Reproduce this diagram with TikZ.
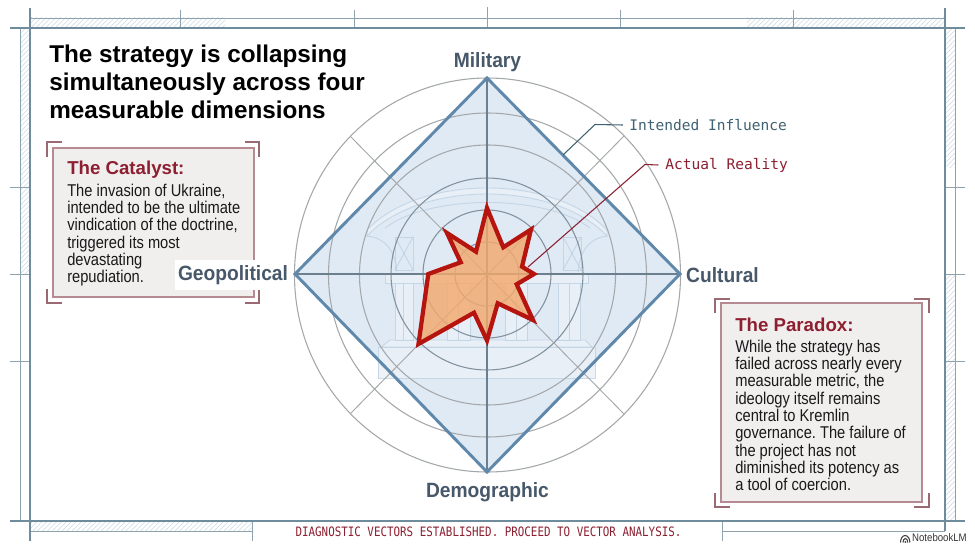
\documentclass[tikz,border=0pt]{standalone}
\usepackage{fontspec}
\setmainfont{Liberation Sans}
\newfontfamily\bodyfont[FakeStretch=0.86]{Liberation Sans}
\newfontfamily\axisfont[FakeStretch=0.93]{Liberation Sans}
\newfontfamily\logofont[FakeStretch=0.88]{Liberation Sans}
\newfontfamily\monofont{DejaVu Sans Mono}
\newfontfamily\footfont[FakeStretch=0.84]{DejaVu Sans Mono}
\usetikzlibrary{patterns.meta}
\frenchspacing
\definecolor{framecol}{HTML}{6F8C9C}
\definecolor{thincol}{HTML}{8FA3AE}
\definecolor{hatchcol}{HTML}{CBDAE4}
\definecolor{ringcol}{HTML}{A4A8AA}
\definecolor{axiscol}{HTML}{6C7F8E}
\definecolor{intendcol}{HTML}{5F88AB}
\definecolor{intendfill}{HTML}{E0EAF5}
\definecolor{templecol}{HTML}{BDD1E3}
\definecolor{actualcol}{HTML}{B5140F}
\definecolor{actualfill}{HTML}{F3A96E}
\definecolor{slatecol}{HTML}{47586A}
\definecolor{leadcol}{HTML}{3F6272}
\definecolor{wine}{HTML}{8C1F30}
\definecolor{boxfill}{HTML}{F1EEEE}
\definecolor{boxline}{HTML}{B58A90}
\definecolor{brackcol}{HTML}{9A6A72}
\tikzset{
  mainline/.style={draw=framecol, line width=1pt},
  thinline/.style={draw=thincol, line width=.7pt},
  hatchstrip/.style={pattern={Lines[angle=45,distance=2.6pt,line width=.4pt]}, pattern color=hatchcol},
  ring/.style={draw=ringcol, line width=.8pt},
  spoke/.style={draw=ringcol, line width=.7pt},
  axis/.style={draw=axiscol, line width=.8pt},
  templeline/.style={draw=templecol, line width=.7pt},
  templefill/.style={fill=templecol!30, draw=templecol, line width=.7pt},
  axislabel/.style={font=\axisfont\fontsize{15.5}{17}\selectfont\bfseries, text=slatecol, inner sep=0pt},
  legendlabel/.style={font=\monofont\fontsize{10.9}{13}\selectfont, anchor=west, inner sep=0pt},
  notebox/.style={fill=boxfill, draw=boxline, line width=1pt},
  bracket/.style={draw=brackcol, line width=1pt},
  noteskip/.style={font=\bodyfont\fontsize{12.8}{13}\selectfont, anchor=north west, align=left, inner sep=0pt, text=black!90},
  notehead/.style={font=\fontsize{14}{16}\selectfont\bfseries, anchor=west, inner sep=0pt, text=wine},
}
\begin{document}
\begin{tikzpicture}[x=0.75pt, y=-0.75pt]
  \useasboundingbox (0,0) rectangle (975,549);
  \fill[white] (0,0) rectangle (975,549);
  % hatched strips
  \fill[hatchstrip] (30,18) rectangle (225,28);
  \fill[hatchstrip] (747,18) rectangle (945,28);
  \fill[hatchstrip] (20,28) rectangle (30,274);
  \fill[hatchstrip] (945,28) rectangle (955,168);
  \fill[hatchstrip] (945,274) rectangle (955,521);
  \fill[hatchstrip] (30,521) rectangle (252,531);
  % outer construction lines
  \draw[thinline] (30,18) -- (945,18);
  \draw[thinline] (20,28) -- (20,521);
  \draw[thinline] (955,28) -- (955,521);
  \draw[thinline] (30,531) -- (252,531);
  \draw[thinline] (722,531) -- (945,531);
  % ticks
  \draw[thinline] (180,10) -- (180,28);
  \draw[thinline] (354,10) -- (354,28);
  \draw[thinline] (487,7) -- (487,28);
  \draw[thinline] (620,10) -- (620,28);
  \draw[thinline] (793,10) -- (793,28);
  \draw[thinline] (10,187) -- (30,187);
  \draw[thinline] (10,274) -- (30,274);
  \draw[thinline] (10,361) -- (30,361);
  \draw[thinline] (945,187) -- (965,187);
  \draw[thinline] (945,274) -- (965,274);
  \draw[thinline] (945,361) -- (965,361);
  \draw[thinline] (252,521) -- (252,541);
  \draw[thinline] (722,521) -- (722,541);
  % main frame
  \draw[mainline] (10,28) -- (965,28);
  \draw[mainline] (10,521) -- (965,521);
  \draw[mainline] (30,8) -- (30,541);
  \draw[mainline] (945,8) -- (945,531);
  %
  % intended influence
  \fill[intendfill] (487,78) -- (680,274) -- (487,472) -- (295,274) -- cycle;
  %
  % faint temple
  \begin{scope}[opacity=.8]
    \draw[templefill] (378,347) rectangle (595,378);
    \draw[templefill] (381,347) -- (390,340) -- (585,340) -- (592,347) -- cycle;
    \draw[templefill] (367,230) .. controls (420,174) and (554,174) .. (607,230)
      -- (607,236) .. controls (554,180) and (420,180) .. (367,236) -- cycle;
    \draw[templeline] (385,228) .. controls (430,194) and (545,194) .. (590,228);
    \draw[templeline] (367,236) .. controls (385,238) and (395,250) .. (397,272);
    \draw[templeline] (607,236) .. controls (590,238) and (580,250) .. (578,272);
    \draw[templeline] (395,237) rectangle (413,270);
    \draw[templeline] (395,237) -- (413,270);
    \draw[templeline] (395,270) -- (413,237);
    \draw[templeline] (563,237) rectangle (581,270);
    \draw[templeline] (563,237) -- (581,270);
    \draw[templeline] (563,270) -- (581,237);
    \draw[templefill] (385,274) rectangle (588,283);
    \draw[templefill] (395,283) rectangle (413,340);
    \draw[templefill] (447,283) rectangle (470,340);
    \draw[templefill] (505,283) rectangle (527,340);
    \draw[templefill] (558,283) rectangle (580,340);
    \draw[templeline] (403,283) -- (403,340);
    \draw[templeline] (458,283) -- (458,340);
    \draw[templeline] (516,283) -- (516,340);
    \draw[templeline] (569,283) -- (569,340);
  \end{scope}
  %
  % rings
  \draw[ring] (487.5,275) circle[x radius=193, y radius=197];
  \draw[ring] (487.5,275) circle[x radius=159, y radius=162];
  \draw[ring] (487.5,275) circle[x radius=128, y radius=130];
  \draw[ring, draw=axiscol!85] (487,274) circle[x radius=96, y radius=96];
  \draw[ring, draw=axiscol!85] (487,274) circle[x radius=64, y radius=64];
  \draw[ring, draw=axiscol!85] (487,274) circle[x radius=32, y radius=32];
  %
  % spokes
  \draw[spoke] (350,136) -- (624,414);
  \draw[spoke] (350,414) -- (624,136);
  \draw[axis] (487,78) -- (487,472);
  \draw[axis] (295,274) -- (680,274);
  %
  \draw[draw=intendcol, line width=2.2pt, line join=miter] (487,78) -- (680,274) -- (487,472) -- (295,274) -- cycle;
  %
  % actual reality
  \draw[draw=actualcol, line width=3.2pt, fill=actualfill, fill opacity=.82, line join=miter, miter limit=6]
    (487,208) -- (503.3,247.3) -- (531,229.5) -- (522,266.7) -- (534,274) -- (516.7,284.3)
    -- (533,320) -- (497.7,303.3) -- (487,340.5) -- (474,312.7) -- (418.5,344)
    -- (428.3,274) -- (460.7,262.3) -- (447,233) -- (476,251.7) -- cycle;
  %
  % axis labels
  \node[axislabel] (military) at (487.5,62) {Military};
  \node[axislabel] (demographic) at (487.5,492) {Demographic};
  \node[axislabel] (cultural) at (722.5,275) {Cultural};
  %
  % legend
  \node[legendlabel, text=leadcol] (intended) at (629,125) {Intended Influence};
  \node[legendlabel, text=wine] (actual) at (665,165) {Actual Reality};
  \coordinate (intendedend) at (563,155);
  \coordinate (actualend) at (528,267);
  \coordinate (intendedbend) at (595,124.5);
  \coordinate (actualbend) at (645,164.5);
  \draw[draw=leadcol, line width=.8pt] (intendedend) -- (intendedbend) -- ([xshift=-4.5pt]intended.west);
  \draw[draw=wine, line width=.8pt] (actualend) -- (actualbend) -- ([xshift=-5pt]actual.west);
  %
  % title
  \node[font=\fontsize{18.2}{21}\selectfont\bfseries, anchor=north west, align=left, inner sep=0pt] (title) at (49,45)
    {The strategy is collapsing\\simultaneously across four\\measurable dimensions};
  %
  % catalyst note
  \draw[notebox] (53,148) rectangle (254,297);
  \draw[bracket] (47,157) -- (47,142) -- (62,142);
  \draw[bracket] (245,142) -- (259,142) -- (259,157);
  \draw[bracket] (47,289) -- (47,303) -- (62,303);
  \draw[bracket] (245,303) -- (259,303) -- (259,289);
  \node[notehead] (catalyst) at (67,170) {The Catalyst:};
  \node[noteskip] (catalysttext) at (67,183.5) {The invasion of Ukraine,\\intended to be the ultimate\\vindication of the doctrine,\\triggered its most\\devastating\\repudiation.};
  \node[axislabel, fill=white, inner xsep=2pt, inner ysep=4pt] (geopolitical) at (233,275) {Geopolitical};
  %
  % paradox note
  \draw[notebox] (721,303) rectangle (922,502);
  \draw[bracket] (715,313) -- (715,299) -- (730,299);
  \draw[bracket] (914,299) -- (929,299) -- (929,313);
  \draw[bracket] (715,493) -- (715,507) -- (730,507);
  \draw[bracket] (914,507) -- (929,507) -- (929,493);
  \node[notehead] (paradox) at (735,325) {The Paradox:};
  \node[noteskip] (paradoxtext) at (735,339.5) {While the strategy has\\failed across nearly every\\measurable metric, the\\ideology itself remains\\central to Kremlin\\governance. The failure of\\the project has not\\diminished its potency as\\a tool of coercion.};
  %
  % footer
  \node[font=\footfont\fontsize{9.7}{11}\selectfont, text=wine, inner sep=0pt] (footer) at (488.5,531.5) {DIAGNOSTIC VECTORS ESTABLISHED. PROCEED TO VECTOR ANALYSIS.};
  \node[font=\logofont\fontsize{8.2}{9}\selectfont, anchor=east, inner sep=0pt, text=black!80] (notebook) at (967,538) {NotebookLM};
  \draw[black!75, line width=.8pt] (900.5,542.5) arc[start angle=180, end angle=0, x radius=4.7, y radius=-7];
  \draw[black!75, line width=.8pt] (903,542.5) arc[start angle=180, end angle=0, x radius=2.4, y radius=-4];
  \fill[black!75] (905.4,542) circle[x radius=1, y radius=1];
\end{tikzpicture}
\end{document}
